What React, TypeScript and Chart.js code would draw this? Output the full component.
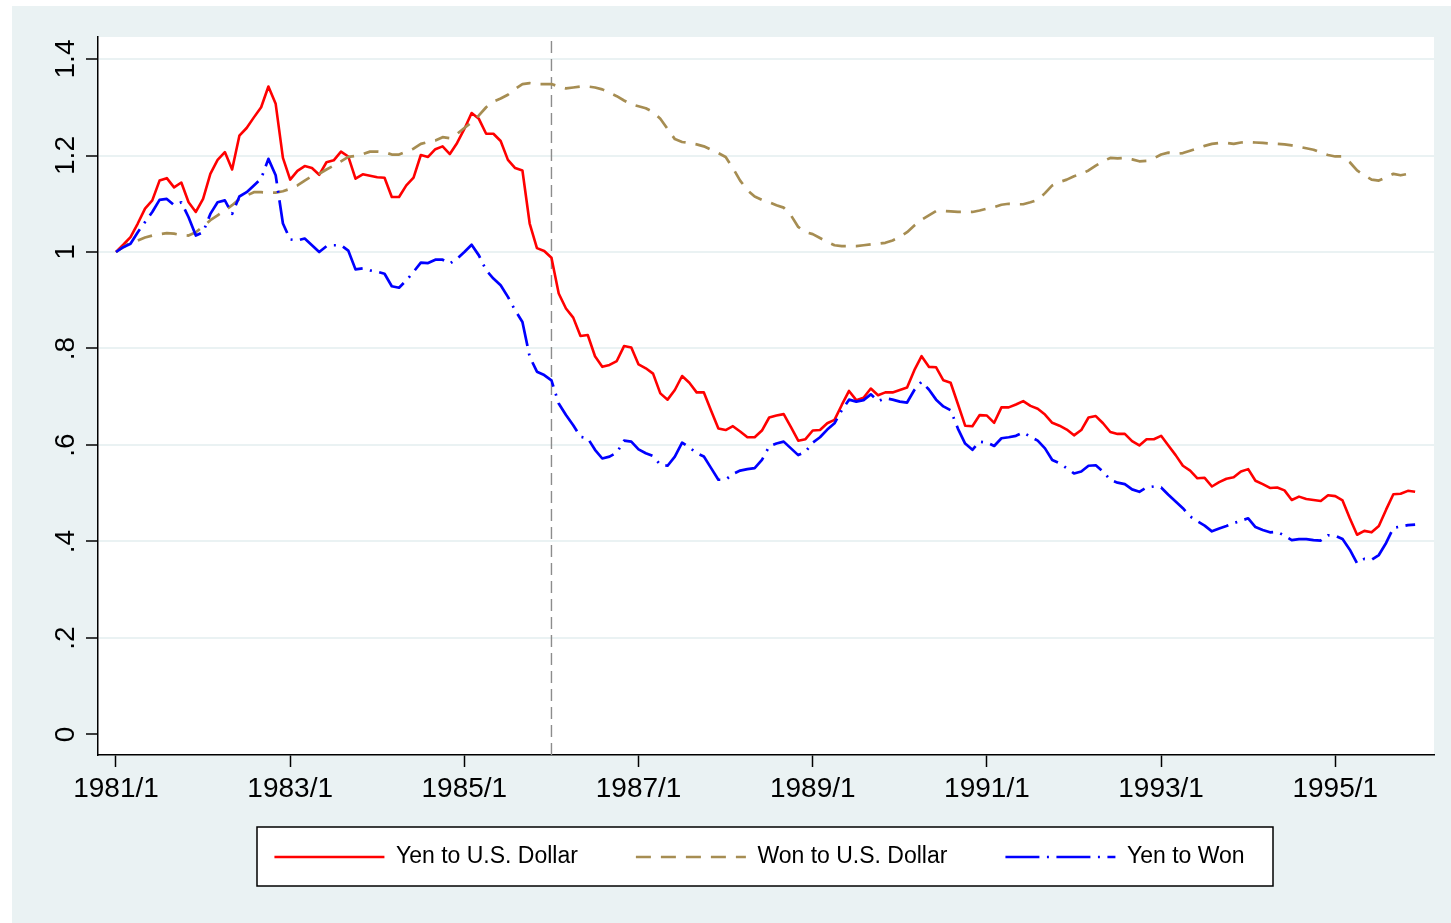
import React, { useEffect, useRef } from 'react';
import { Chart, registerables } from 'chart.js';

Chart.register(...registerables);

// Monthly categories, 1981/1 .. 1995/12
const months: string[] = [];
for (let y = 1981; y <= 1995; y++) for (let m = 1; m <= 12; m++) months.push(`${y}/${m}`);

const seriesLabels = ['Yen to U.S. Dollar', 'Won to U.S. Dollar', 'Yen to Won'];

const yenToUsd = [
  1.000, 1.015, 1.031, 1.059, 1.090, 1.107, 1.148, 1.153, 1.134, 1.144, 1.103, 1.083,
  1.110, 1.162, 1.191, 1.207, 1.171, 1.241, 1.257, 1.279, 1.300, 1.343, 1.307, 1.195,
  1.150, 1.168, 1.178, 1.174, 1.160, 1.186, 1.190, 1.208, 1.198, 1.152, 1.161, 1.158,
  1.155, 1.154, 1.114, 1.114, 1.138, 1.154, 1.201, 1.197, 1.213, 1.219, 1.203, 1.226,
  1.255, 1.288, 1.276, 1.245, 1.245, 1.230, 1.191, 1.174, 1.169, 1.059, 1.008, 1.002,
  0.988, 0.914, 0.883, 0.864, 0.826, 0.828, 0.784, 0.762, 0.766, 0.774, 0.805, 0.802,
  0.767, 0.759, 0.748, 0.707, 0.694, 0.714, 0.743, 0.729, 0.709, 0.709, 0.671, 0.634,
  0.631, 0.639, 0.628, 0.616, 0.616, 0.630, 0.657, 0.661, 0.664, 0.637, 0.609, 0.612,
  0.630, 0.631, 0.645, 0.652, 0.683, 0.712, 0.693, 0.698, 0.717, 0.703, 0.709, 0.709,
  0.714, 0.719, 0.755, 0.784, 0.762, 0.761, 0.734, 0.729, 0.685, 0.640, 0.639, 0.662,
  0.661, 0.646, 0.678, 0.678, 0.684, 0.691, 0.681, 0.675, 0.663, 0.646, 0.640, 0.632,
  0.620, 0.631, 0.657, 0.660, 0.645, 0.627, 0.623, 0.623, 0.608, 0.599, 0.612, 0.612,
  0.619, 0.599, 0.579, 0.557, 0.547, 0.531, 0.532, 0.514, 0.523, 0.530, 0.533, 0.545,
  0.550, 0.526, 0.519, 0.511, 0.512, 0.506, 0.486, 0.493, 0.488, 0.486, 0.484, 0.496,
  0.494, 0.485, 0.448, 0.414, 0.422, 0.419, 0.432, 0.466, 0.498, 0.499, 0.505, 0.503,
];

const wonToUsd = [
  1.000, 1.010, 1.020, 1.024, 1.030, 1.034, 1.037, 1.039, 1.038, 1.035, 1.034, 1.041,
  1.053, 1.066, 1.076, 1.086, 1.097, 1.110, 1.117, 1.124, 1.124, 1.123, 1.123, 1.126,
  1.131, 1.138, 1.148, 1.157, 1.162, 1.171, 1.179, 1.188, 1.197, 1.199, 1.203, 1.208,
  1.208, 1.207, 1.202, 1.202, 1.208, 1.214, 1.224, 1.228, 1.231, 1.238, 1.236, 1.245,
  1.257, 1.269, 1.283, 1.300, 1.312, 1.318, 1.326, 1.338, 1.348, 1.350, 1.348, 1.348,
  1.348, 1.343, 1.339, 1.341, 1.343, 1.343, 1.341, 1.337, 1.330, 1.323, 1.314, 1.306,
  1.302, 1.298, 1.290, 1.276, 1.255, 1.234, 1.228, 1.226, 1.223, 1.219, 1.212, 1.205,
  1.197, 1.174, 1.148, 1.128, 1.115, 1.108, 1.103, 1.097, 1.092, 1.076, 1.052, 1.041,
  1.037, 1.029, 1.021, 1.014, 1.012, 1.012, 1.012, 1.014, 1.016, 1.017, 1.019, 1.024,
  1.031, 1.041, 1.055, 1.067, 1.076, 1.085, 1.085, 1.084, 1.083, 1.083, 1.083, 1.086,
  1.090, 1.093, 1.098, 1.100, 1.099, 1.099, 1.103, 1.108, 1.122, 1.138, 1.145, 1.150,
  1.157, 1.162, 1.169, 1.179, 1.188, 1.195, 1.194, 1.195, 1.192, 1.188, 1.189, 1.194,
  1.202, 1.206, 1.203, 1.205, 1.210, 1.215, 1.220, 1.224, 1.226, 1.226, 1.224, 1.227,
  1.228, 1.227, 1.226, 1.225, 1.224, 1.223, 1.221, 1.218, 1.215, 1.212, 1.206, 1.201,
  1.198, 1.198, 1.186, 1.169, 1.159, 1.150, 1.148, 1.155, 1.162, 1.159, 1.162, 1.164,
];

const yenToWon = [
  1.000, 1.010, 1.017, 1.041, 1.062, 1.083, 1.108, 1.110, 1.097, 1.103, 1.072, 1.034,
  1.041, 1.079, 1.103, 1.107, 1.079, 1.115, 1.124, 1.138, 1.152, 1.193, 1.159, 1.059,
  1.026, 1.024, 1.028, 1.014, 1.000, 1.012, 1.014, 1.014, 1.003, 0.964, 0.966, 0.962,
  0.959, 0.955, 0.929, 0.926, 0.941, 0.959, 0.978, 0.977, 0.984, 0.984, 0.976, 0.986,
  1.000, 1.015, 0.993, 0.962, 0.945, 0.931, 0.907, 0.879, 0.855, 0.783, 0.752, 0.745,
  0.734, 0.686, 0.662, 0.641, 0.617, 0.614, 0.590, 0.572, 0.576, 0.584, 0.609, 0.607,
  0.591, 0.583, 0.577, 0.559, 0.557, 0.576, 0.605, 0.595, 0.583, 0.576, 0.552, 0.528,
  0.528, 0.540, 0.547, 0.550, 0.552, 0.569, 0.597, 0.603, 0.607, 0.593, 0.579, 0.586,
  0.605, 0.616, 0.632, 0.645, 0.672, 0.694, 0.690, 0.693, 0.705, 0.691, 0.697, 0.694,
  0.690, 0.688, 0.714, 0.731, 0.715, 0.694, 0.680, 0.672, 0.634, 0.603, 0.590, 0.607,
  0.605, 0.598, 0.614, 0.616, 0.619, 0.626, 0.617, 0.609, 0.593, 0.569, 0.562, 0.552,
  0.541, 0.545, 0.557, 0.558, 0.545, 0.528, 0.522, 0.519, 0.508, 0.503, 0.512, 0.514,
  0.512, 0.497, 0.483, 0.469, 0.452, 0.442, 0.433, 0.421, 0.427, 0.432, 0.438, 0.443,
  0.448, 0.430, 0.424, 0.419, 0.420, 0.412, 0.403, 0.405, 0.405, 0.403, 0.402, 0.413,
  0.412, 0.405, 0.383, 0.355, 0.364, 0.362, 0.372, 0.397, 0.428, 0.431, 0.434, 0.435,
];

const xTickLabels = ['1981/1', '1983/1', '1985/1', '1987/1', '1989/1', '1991/1', '1993/1', '1995/1'];
const yTickValues = [0, 0.2, 0.4, 0.6, 0.8, 1, 1.2, 1.4];
const yTickLabels = ['0', '.2', '.4', '.6', '.8', '1', '1.2', '1.4'];
const eventDate = '1986/1';

const X_MIN = -2.48;
const X_MAX = 181.6;
const Y_MIN = -0.0425;
const Y_MAX = 1.4456;

const GOLD = '#A68D52';
const BG = '#EAF2F3';
const FONT = '"Liberation Sans", Arial, Helvetica, sans-serif';

// canvas-space layout targets for the legend
const LEGEND_LEFT = 73;
const LEGEND_TEXT_Y = 851;
const BOX_LEFT = 245;
const BOX_RIGHT = 1261;

const backgroundPlugin = {
  id: 'stataBackground',
  afterLayout(chart: any) {
    const lg = chart.legend;
    if (!lg) return;
    const pad = lg.options.labels.padding;
    const fs = lg.options.labels.font.size;
    lg.left = LEGEND_LEFT;
    lg.width = lg.right - lg.left;
    lg.top = LEGEND_TEXT_Y - pad - fs / 2;
    lg.bottom = lg.top + lg.height;
  },
  beforeDraw(chart: any) {
    const { ctx, chartArea } = chart;
    ctx.save();
    ctx.fillStyle = '#FFFFFF';
    ctx.fillRect(chartArea.left, chartArea.top, chartArea.right - chartArea.left, chartArea.bottom - chartArea.top);
    if (chart.legend) {
      const cy = LEGEND_TEXT_Y;
      ctx.fillRect(BOX_LEFT, cy - 30, BOX_RIGHT - BOX_LEFT, 59);
      ctx.strokeStyle = '#000';
      ctx.lineWidth = 1.5;
      ctx.strokeRect(BOX_LEFT, cy - 30, BOX_RIGHT - BOX_LEFT, 59);
    }
    ctx.restore();
  },
};

export default function App() {
  const ref = useRef<HTMLCanvasElement>(null);

  useEffect(() => {
    const canvas = ref.current;
    if (!canvas) return;
    const toPts = (arr: number[]) => arr.map((v, i) => ({ x: i, y: v }));
    const xTickValues = xTickLabels.map((l) => months.indexOf(l));
    const ev = months.indexOf(eventDate);
    const defaultGen = (Chart as any).defaults.plugins.legend.labels.generateLabels;

    const chart = new Chart(canvas, {
      type: 'line',
      data: {
        datasets: [
          { label: seriesLabels[0], data: toPts(yenToUsd), borderColor: '#FF0000', borderWidth: 2.6, order: 3 },
          { label: seriesLabels[1], data: toPts(wonToUsd), borderColor: GOLD, borderWidth: 2.7, borderDash: [15, 10], order: 2 },
          { label: seriesLabels[2], data: toPts(yenToWon), borderColor: '#0000FF', borderWidth: 2.7, borderDash: [34, 7.5, 2, 7.5], order: 1 },
          { label: '', data: [{ x: ev, y: Y_MIN }, { x: ev, y: Y_MAX }], borderColor: '#8C8C8C', borderWidth: 1.4, borderDash: [12, 6], order: 4 },
        ],
      },
      options: {
        animation: false,
        responsive: false,
        devicePixelRatio: 1,
        events: [],
        elements: {
          point: { radius: 0, hoverRadius: 0 },
          line: { tension: 0, borderJoinStyle: 'round', borderCapStyle: 'butt', fill: false },
        },
        layout: { padding: { left: 0, right: 17, top: 31, bottom: 17 } },
        font: { family: FONT },
        plugins: {
          legend: {
            position: 'bottom',
            align: 'center',
            labels: {
              usePointStyle: true,
              pointStyle: 'line',
              pointStyleWidth: 110,
              padding: 58,
              color: '#000',
              font: { size: 23, family: FONT },
              generateLabels: (c: any) =>
                defaultGen(c).map((item: any) => {
                  const ds = c.data.datasets[item.datasetIndex];
                  return {
                    ...item,
                    lineDash: ds.borderDash || [],
                    lineWidth: ds.borderWidth,
                    strokeStyle: ds.borderColor,
                    fillStyle: ds.borderColor,
                    lineCap: 'butt',
                  };
                }),
              filter: (item: any) => item.text !== '',
              sort: (a: any, b: any) => a.datasetIndex - b.datasetIndex,
            },
          },
          tooltip: { enabled: false },
        },
        scales: {
          x: {
            type: 'linear',
            min: X_MIN,
            max: X_MAX,
            afterBuildTicks: (scale: any) => {
              scale.ticks = xTickValues.map((v) => ({ value: v }));
            },
            afterFit: (scale: any) => {
              scale.height = 60;
            },
            grid: { display: true, drawOnChartArea: false, drawTicks: true, tickLength: 12, tickColor: '#000', tickWidth: 1.5 },
            border: { display: true, color: '#000', width: 1.5 },
            ticks: {
              autoSkip: false,
              maxRotation: 0,
              minRotation: 0,
              padding: 8,
              color: '#000',
              font: { size: 28, lineHeight: 1, family: FONT },
              callback: (value: any) => {
                const i = xTickValues.indexOf(value);
                return i >= 0 ? xTickLabels[i] : '';
              },
            },
          },
          y: {
            type: 'linear',
            min: Y_MIN,
            max: Y_MAX,
            afterBuildTicks: (scale: any) => {
              scale.ticks = yTickValues.map((v) => ({ value: v }));
            },
            afterFit: (scale: any) => {
              scale.width = 86;
            },
            grid: {
              color: (c: any) => (c.tick && c.tick.value === 0 ? 'rgba(0,0,0,0)' : BG),
              lineWidth: 2,
              drawTicks: true,
              tickLength: 12,
              tickColor: '#000',
              tickWidth: 1.5,
            },
            border: { display: true, color: '#000', width: 1.5 },
            ticks: {
              minRotation: 90,
              maxRotation: 90,
              crossAlign: 'center',
              padding: 0,
              color: '#000',
              font: { size: 28, lineHeight: 1, family: FONT },
              callback: (value: any) => {
                const i = yTickValues.indexOf(value);
                return i >= 0 ? yTickLabels[i] : '';
              },
            },
          },
        },
      } as any,
      plugins: [backgroundPlugin],
    });

    return () => chart.destroy();
  }, []);

  return (
    <div style={{ position: 'absolute', left: 12, top: 6, width: 1439, height: 917, background: BG }}>
      <canvas ref={ref} width={1439} height={917} style={{ display: 'block', width: 1439, height: 917 }} />
    </div>
  );
}
